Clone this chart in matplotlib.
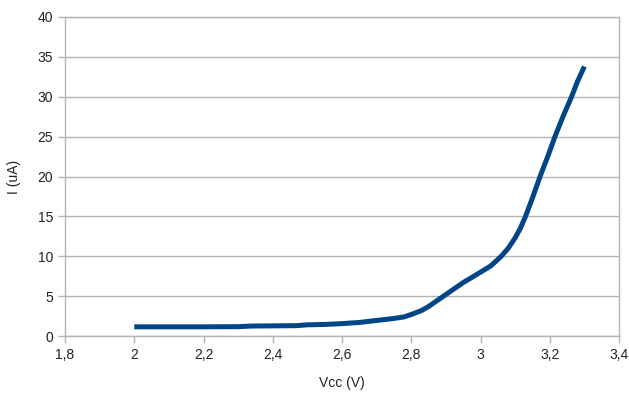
import matplotlib.pyplot as plt
from matplotlib.ticker import FuncFormatter

plt.rcParams['font.family'] = ['Liberation Sans', 'DejaVu Sans']

# measured supply current vs supply voltage
vcc = [2.0, 2.1, 2.2, 2.3, 2.34, 2.4, 2.47, 2.5, 2.55, 2.6, 2.65, 2.7, 2.75,
       2.78, 2.8, 2.83, 2.85, 2.9, 2.95, 3.0, 3.03, 3.06, 3.08, 3.1, 3.115,
       3.13, 3.15, 3.172, 3.195, 3.215, 3.24, 3.263, 3.28, 3.3]
current = [1.15, 1.15, 1.15, 1.17, 1.25, 1.27, 1.3, 1.4, 1.45, 1.55, 1.7,
           1.95, 2.2, 2.4, 2.7, 3.2, 3.7, 5.2, 6.7, 8.0, 8.8, 10.0, 11.0,
           12.3, 13.5, 15.0, 17.3, 20.0, 22.6, 25.0, 27.7, 30.0, 31.9, 33.8]

x_ticks = [1.8, 2.0, 2.2, 2.4, 2.6, 2.8, 3.0, 3.2, 3.4]
y_ticks = [0, 5, 10, 15, 20, 25, 30, 35, 40]

grey = '#b3b3b3'

fig = plt.figure(figsize=(6.29, 3.99), dpi=100)
ax = fig.add_axes([65 / 629, 63 / 399, 554 / 629, 319 / 399])

ax.plot(vcc, current, color='#004586', linewidth=3.6, solid_capstyle='butt')

ax.set_xlim(1.8, 3.4)
ax.set_ylim(0, 40)
ax.set_xticks(x_ticks)
ax.set_yticks(y_ticks)
ax.xaxis.set_major_formatter(FuncFormatter(lambda v, p: f'{v:g}'.replace('.', ',')))

ax.grid(axis='y', color=grey, linewidth=1)
ax.set_axisbelow(True)
for s in ax.spines.values():
    s.set_color(grey)
    s.set_linewidth(1)
ax.tick_params(colors=grey, labelcolor='#222222', labelsize=10, length=5, width=1)

ax.set_xlabel('Vcc (V)', fontsize=10, color='#222222', labelpad=10)
ax.set_ylabel('I (uA)', fontsize=10, color='#222222', labelpad=12)

fig.savefig('out.png', dpi=100)
